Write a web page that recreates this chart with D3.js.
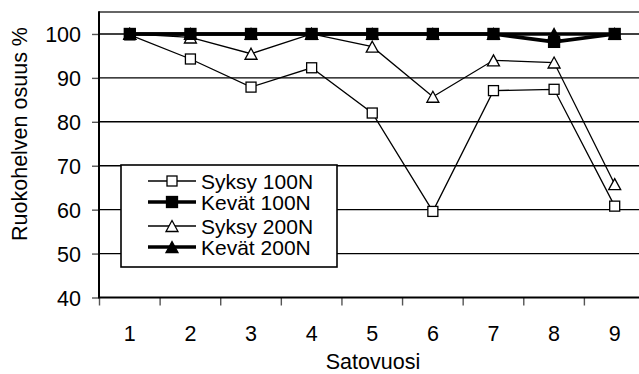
<!DOCTYPE html>
<html>
<head>
<meta charset="utf-8">
<script src="https://cdn.jsdelivr.net/npm/d3@7"></script>
<style>
  html, body { margin: 0; padding: 0; background: #fff; }
  svg { display: block; }
  text { font-family: "Liberation Sans", Arial, sans-serif; fill: #000; }
</style>
</head>
<body>
<svg id="chart" width="639" height="374"></svg>
<script>
// Harvest years
const years = [1, 2, 3, 4, 5, 6, 7, 8, 9];

// Share of reed canary grass (%) per sowing time and nitrogen rate
const syksy100N = [99.8, 94.3, 87.9, 92.3, 82.0, 59.6, 87.1, 87.4, 60.8];
const kevat100N = [100, 100, 100, 100, 100, 100, 100, 98.2, 100];
const syksy200N = [100, 99.2, 95.5, 100, 97.1, 85.7, 94.0, 93.5, 65.8];
const kevat200N = [100, 100, 100, 100, 100, 100, 100, 100, 100];

const seriesNames = ["Syksy 100N", "Kevät 100N", "Syksy 200N", "Kevät 200N"];
const yTicks = [40, 50, 60, 70, 80, 90, 100];
const yTitle = "Ruokohelven osuus %";
const xTitle = "Satovuosi";

const series = [
  { name: seriesNames[0], values: syksy100N, thick: false, marker: "square", filled: false },
  { name: seriesNames[1], values: kevat100N, thick: true,  marker: "square", filled: true },
  { name: seriesNames[2], values: syksy200N, thick: false, marker: "triangle", filled: false },
  { name: seriesNames[3], values: kevat200N, thick: true,  marker: "triangle", filled: true }
];

const svg = d3.select("#chart");
const plot = { left: 99, right: 645, top: 12, bottom: 297.5 };

const x = d3.scaleBand().domain(years).range([plot.left + 0.5, plot.right]).padding(0);
const y = d3.scaleLinear().domain([40, 105]).range([plot.bottom, plot.top]);

const fontSize = 21.5;
const legendFontSize = 21;

function styleText(sel, size) {
  return sel
    .attr("font-size", size || fontSize)
    .style("font-family", '"Liberation Sans", Arial, sans-serif');
}

// Horizontal gridlines
svg.append("g")
  .selectAll("line")
  .data(yTicks.filter(v => v > 40))
  .join("line")
  .attr("x1", plot.left).attr("x2", 639)
  .attr("y1", d => y(d)).attr("y2", d => y(d))
  .attr("stroke", "#000").attr("stroke-width", 1.4);

// Top frame line
svg.append("line")
  .attr("x1", plot.left).attr("x2", 639)
  .attr("y1", plot.top).attr("y2", plot.top)
  .attr("stroke", "#333").attr("stroke-width", 1.6);

// Y axis
const yAxis = svg.append("g")
  .attr("transform", `translate(${plot.left},0)`)
  .call(d3.axisLeft(y).tickValues(yTicks).tickSize(7).tickPadding(11).tickFormat(d3.format("d")));
yAxis.select(".domain").remove();
yAxis.selectAll(".tick line").attr("stroke", "#555").attr("stroke-width", 1.4);
styleText(yAxis.selectAll(".tick text")).attr("dy", "0.36em");
svg.append("line")
  .attr("x1", plot.left).attr("x2", plot.left)
  .attr("y1", plot.top - 0.8).attr("y2", plot.bottom)
  .attr("stroke", "#000").attr("stroke-width", 2);

// X axis: labels centred in each band, tick marks on band boundaries
const xAxis = svg.append("g")
  .attr("transform", `translate(0,${plot.bottom})`)
  .call(d3.axisBottom(x).tickSize(0).tickPadding(0));
xAxis.select(".domain").remove();
styleText(xAxis.selectAll(".tick text"))
  .attr("y", 43.5).attr("dy", null);
svg.append("g")
  .selectAll("line")
  .data(years)
  .join("line")
  .attr("x1", d => x(d)).attr("x2", d => x(d))
  .attr("y1", plot.bottom).attr("y2", plot.bottom + 8)
  .attr("stroke", "#555").attr("stroke-width", 1.4);
svg.append("line")
  .attr("x1", plot.left - 1).attr("x2", 639)
  .attr("y1", plot.bottom).attr("y2", plot.bottom)
  .attr("stroke", "#000").attr("stroke-width", 2.2);

// Axis titles
styleText(svg.append("text"))
  .attr("x", 373).attr("y", 368.5)
  .attr("text-anchor", "middle")
  .text(xTitle);
styleText(svg.append("text"))
  .attr("transform", "translate(27,134) rotate(-90)")
  .attr("text-anchor", "middle")
  .text(yTitle);

// Marker drawing
function drawMarker(g, m, cx, cy) {
  const fill = m.filled ? "#000" : "#fff";
  if (m.marker === "square") {
    const s = m.filled ? 11 : 10;
    g.append("rect")
      .attr("x", cx - s / 2).attr("y", cy - s / 2)
      .attr("width", s).attr("height", s)
      .attr("fill", fill).attr("stroke", "#000").attr("stroke-width", 1.3);
  } else {
    const w = 12, h = 11;
    g.append("path")
      .attr("d", `M${cx},${cy - h / 2}L${cx + w / 2},${cy + h / 2}L${cx - w / 2},${cy + h / 2}Z`)
      .attr("fill", fill).attr("stroke", "#000").attr("stroke-width", 1.3)
      .attr("stroke-linejoin", "miter");
  }
}

// Series lines and markers
const line = d3.line()
  .x((d, i) => x(years[i]) + x.bandwidth() / 2)
  .y(d => y(d));

series.forEach(s => {
  const g = svg.append("g");
  g.append("path")
    .attr("d", line(s.values))
    .attr("fill", "none")
    .attr("stroke", "#000")
    .attr("stroke-width", s.thick ? 3.6 : 1.3)
    .attr("stroke-linejoin", "miter");
  s.values.forEach((v, i) => {
    drawMarker(g, s, x(years[i]) + x.bandwidth() / 2, y(v));
  });
});

// Legend
const legend = svg.append("g");
legend.append("rect")
  .attr("x", 121).attr("y", 165)
  .attr("width", 216).attr("height", 102)
  .attr("fill", "#fff").attr("stroke", "#000").attr("stroke-width", 1.6);
const rowY = [181, 202, 226, 247];
series.forEach((s, i) => {
  const cy = rowY[i];
  legend.append("line")
    .attr("x1", 148).attr("x2", 196)
    .attr("y1", cy).attr("y2", cy)
    .attr("stroke", "#000").attr("stroke-width", s.thick ? 3.6 : 1.3);
  drawMarker(legend, s, 172, cy);
  styleText(legend.append("text"), legendFontSize)
    .attr("x", 201).attr("y", cy + 7.5)
    .text(s.name);
});
</script>
</body>
</html>
